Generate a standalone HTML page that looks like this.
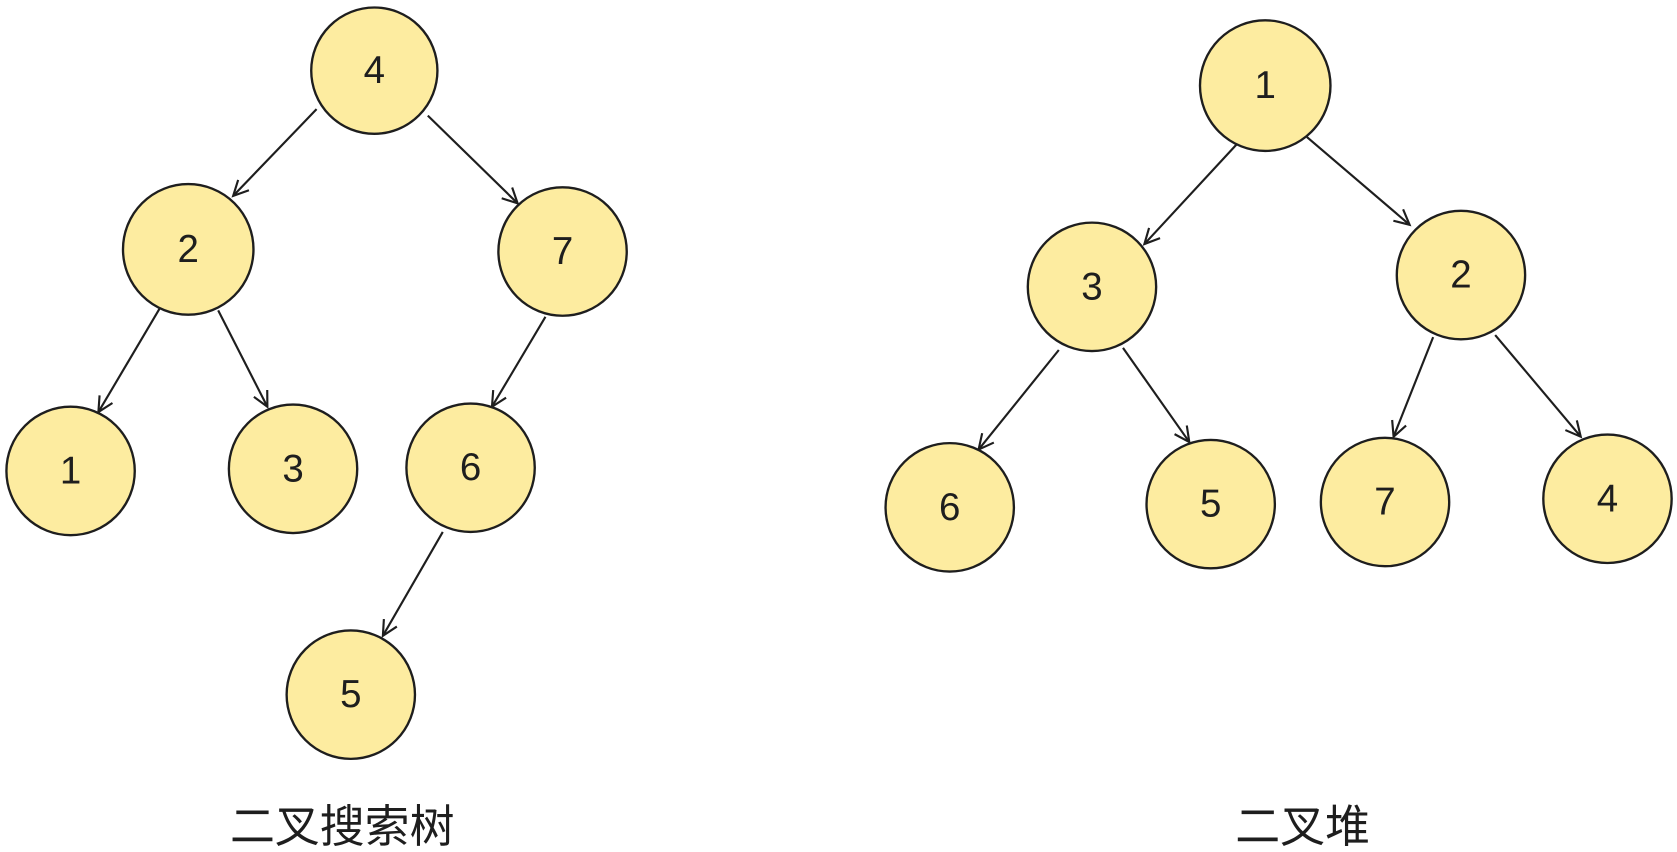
<!DOCTYPE html>
<html>
<head>
<meta charset="utf-8">
<style>
  html,body{margin:0;padding:0;background:#fff;}
  svg{display:block;}
  text{font-family:"Liberation Sans","Noto Sans CJK SC",sans-serif;fill:#1e1e1e;}
</style>
</head>
<body>
<svg width="1677" height="852" viewBox="0 0 1568 796" preserveAspectRatio="none" xmlns="http://www.w3.org/2000/svg">
  <defs>
    <marker id="a" markerWidth="20" markerHeight="20" refX="16" refY="10" orient="auto" markerUnits="userSpaceOnUse">
      <path d="M2,3 L16,10 L2,17" fill="none" stroke="#1e1e1e" stroke-width="2"/>
    </marker>
  </defs>
  <g stroke="#1e1e1e" stroke-width="2" fill="none" marker-end="url(#a)">
    <line x1="296" y1="102" x2="218" y2="183"/>
    <line x1="400" y1="108" x2="484" y2="190"/>
    <line x1="150" y1="287" x2="92" y2="385"/>
    <line x1="204" y1="290" x2="250" y2="380"/>
    <line x1="510" y1="296" x2="460" y2="380"/>
    <line x1="414" y1="497" x2="358" y2="594"/>
    <line x1="1158" y1="133" x2="1070" y2="228"/>
    <line x1="1222" y1="128" x2="1318" y2="210"/>
    <line x1="990" y1="327" x2="915" y2="420"/>
    <line x1="1050" y1="325" x2="1112" y2="413"/>
    <line x1="1340" y1="315" x2="1303" y2="408"/>
    <line x1="1398" y1="313" x2="1478" y2="408"/>
  </g>
  <g fill="#fdeca0" stroke="#1e1e1e" stroke-width="2.2">
    <circle cx="350" cy="66" r="59"/>
    <circle cx="176" cy="233" r="61"/>
    <circle cx="526" cy="235" r="60"/>
    <circle cx="66" cy="440" r="60"/>
    <circle cx="274" cy="438" r="60"/>
    <circle cx="440" cy="437" r="60"/>
    <circle cx="328" cy="649" r="60"/>
    <circle cx="1183" cy="80" r="61"/>
    <circle cx="1021" cy="268" r="60"/>
    <circle cx="1366" cy="257" r="60"/>
    <circle cx="888" cy="474" r="60"/>
    <circle cx="1132" cy="471" r="60"/>
    <circle cx="1295" cy="469" r="60"/>
    <circle cx="1503" cy="466" r="60"/>
  </g>
  <g font-size="36" text-anchor="middle" dominant-baseline="central">
    <text x="350" y="66">4</text>
    <text x="176" y="233">2</text>
    <text x="526" y="235">7</text>
    <text x="66" y="440">1</text>
    <text x="274" y="438">3</text>
    <text x="440" y="437">6</text>
    <text x="328" y="649">5</text>
    <text x="1183" y="80">1</text>
    <text x="1021" y="268">3</text>
    <text x="1366" y="257">2</text>
    <text x="888" y="474">6</text>
    <text x="1132" y="471">5</text>
    <text x="1295" y="469">7</text>
    <text x="1503" y="466">4</text>
  </g>
  <g font-size="42" text-anchor="middle" dominant-baseline="central">
    <text x="320" y="772">二叉搜索树</text>
    <text x="1218" y="772">二叉堆</text>
  </g>
</svg>
</body>
</html>
